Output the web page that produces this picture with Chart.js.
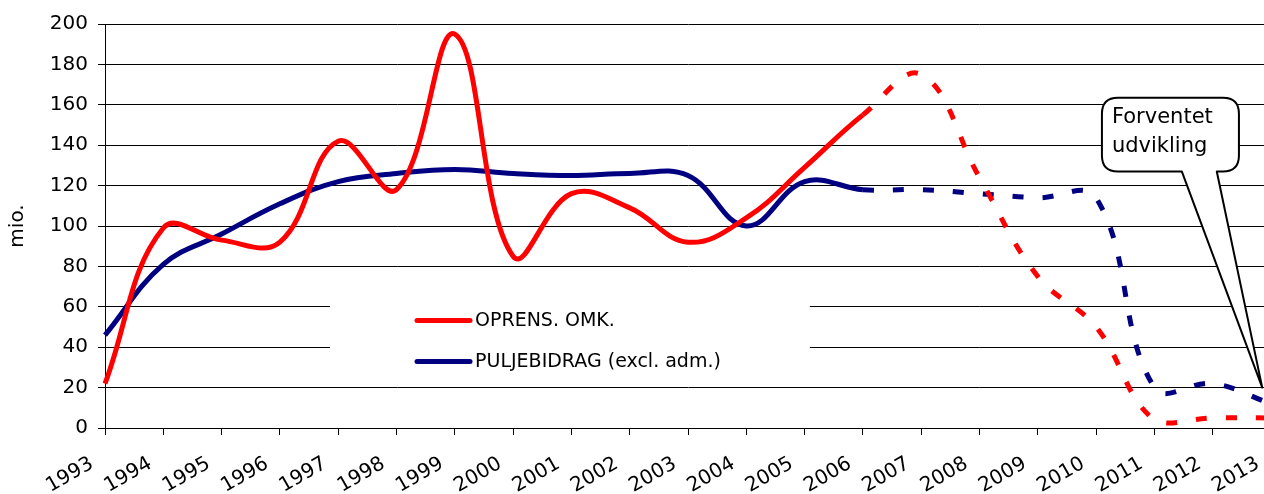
<!DOCTYPE html>
<html><head><meta charset="utf-8">
<script src="https://cdn.jsdelivr.net/npm/chart.js@4.4.1/dist/chart.umd.min.js"></script>
<style>
html,body{margin:0;padding:0;background:#fff;overflow:hidden;width:1264px;height:494px}
#wrap{position:absolute;left:0;top:0;width:1290px;height:494px}
</style>
</head><body>
<div id="wrap"><canvas id="c" width="1290" height="494"></canvas></div>
<script>
const years = ['1993','1994','1995','1996','1997','1998','1999','2000','2001','2002','2003','2004','2005','2006','2007','2008','2009','2010','2011','2012','2013'];
const oprensOmk  = [22, 99, 93, 92, 142, 118, 195, 85, 116, 109, 92, 104, 129, 155, 175, 124, 75, 50, 4, 5, 5];
const puljebidrag = [46, 81, 96, 111, 122, 126, 128, 126, 125, 126, 125, 100, 122, 118, 118, 116, 114, 114, 20, 22, 12];
const seriesNames = ['OPRENS. OMK.', 'PULJEBIDRAG (excl. adm.)'];
const calloutLines = ['Forventet', 'udvikling'];
const yAxisTitle = 'mio.';
const forecastFrom = years.indexOf('2006');

const FONT = 'DejaVu Sans';
const dash = [11, 19];

const legendBox = {
  id: 'legendBox',
  beforeDatasetsDraw(chart) {
    const {ctx, scales: {x, y}} = chart;
    const left = x.getPixelForValue(3.86), right = x.getPixelForValue(12.09);
    const top = y.getPixelForValue(75), bottom = y.getPixelForValue(25);
    ctx.save();
    ctx.fillStyle = '#fff';
    ctx.fillRect(left, top, right - left, bottom - top);
    chart.data.datasets.forEach((ds, i) => {
      const cy = top + 44 + i * 41;
      ctx.strokeStyle = ds.borderColor;
      ctx.lineWidth = 5;
      ctx.lineCap = 'round';
      ctx.beginPath();
      ctx.moveTo(left + 87, cy);
      ctx.lineTo(left + 140, cy);
      ctx.stroke();
      ctx.fillStyle = '#000';
      ctx.font = '19px "' + FONT + '"';
      ctx.textBaseline = 'middle';
      ctx.textAlign = 'left';
      ctx.fillText(ds.label, left + 145, cy + 1);
    });
    ctx.restore();
  }
};

const callout = {
  id: 'callout',
  afterDatasetsDraw(chart) {
    const {ctx, scales: {x, y}} = chart;
    const L = x.getPixelForValue(17.1), R = x.getPixelForValue(19.45);
    const T = y.getPixelForValue(163.5), B = y.getPixelForValue(127);
    const p1 = x.getPixelForValue(18.47), p2 = x.getPixelForValue(19.07);
    const tipX = x.getPixelForValue(19.85), tipY = y.getPixelForValue(20);
    const r = 16;
    ctx.save();
    ctx.beginPath();
    ctx.moveTo(L + r, T);
    ctx.lineTo(R - r, T);
    ctx.quadraticCurveTo(R, T, R, T + r);
    ctx.lineTo(R, B - r);
    ctx.quadraticCurveTo(R, B, R - r, B);
    ctx.lineTo(p2, B);
    ctx.lineTo(tipX, tipY);
    ctx.lineTo(p1, B);
    ctx.lineTo(L + r, B);
    ctx.quadraticCurveTo(L, B, L, B - r);
    ctx.lineTo(L, T + r);
    ctx.quadraticCurveTo(L, T, L + r, T);
    ctx.closePath();
    ctx.fillStyle = '#fff';
    ctx.fill();
    ctx.strokeStyle = '#000';
    ctx.lineWidth = 2;
    ctx.lineJoin = 'round';
    ctx.stroke();
    ctx.fillStyle = '#000';
    ctx.font = '21px "' + FONT + '"';
    ctx.textAlign = 'left';
    ctx.textBaseline = 'alphabetic';
    ctx.fillText(calloutLines[0], L + 10, T + 25);
    ctx.fillText(calloutLines[1], L + 10, T + 54);
    ctx.restore();
  }
};

new Chart(document.getElementById('c'), {
  type: 'line',
  data: {
    labels: years,
    datasets: [
      { label: seriesNames[0], data: oprensOmk, borderColor: '#FF0000', backgroundColor: '#FF0000',
        borderWidth: 5, pointRadius: 0, tension: 0.4, fill: false,
        segment: { borderDash: c => c.p0DataIndex >= forecastFrom ? dash : undefined } },
      { label: seriesNames[1], data: puljebidrag, borderColor: '#000080', backgroundColor: '#000080',
        borderWidth: 5, pointRadius: 0, tension: 0.4, fill: false,
        segment: { borderDash: c => c.p0DataIndex >= forecastFrom ? dash : undefined } }
    ]
  },
  options: {
    responsive: false,
    animation: false,
    layout: { padding: { top: 24, right: 19, left: 0, bottom: 0 } },
    plugins: { legend: { display: false }, tooltip: { enabled: false } },
    scales: {
      x: {
        type: 'category',
        offset: false,
        grid: { drawOnChartArea: false, drawTicks: true, tickLength: 7, tickColor: '#000', color: '#000' },
        border: { display: true, color: '#000', width: 1 },
        ticks: { autoSkip: false, minRotation: 30, maxRotation: 30, color: '#000', padding: 17, labelOffset: -13,
                 font: { family: FONT, size: 20 } },
        afterFit: s => { s.height = 66; s.paddingLeft = 0; s.paddingRight = 0; }
      },
      y: {
        min: 0, max: 200,
        grid: { color: '#000', lineWidth: 1, tickLength: 7, tickColor: '#000' },
        border: { display: true, color: '#000', width: 1 },
        ticks: { stepSize: 20, color: '#000', padding: 10, font: { family: FONT, size: 20 } },
        title: { display: true, text: yAxisTitle, color: '#000', font: { family: FONT, size: 20 }, padding: 6 },
        afterFit: s => { s.width = 105; }
      }
    }
  },
  plugins: [legendBox, callout]
});
</script>
</body></html>
